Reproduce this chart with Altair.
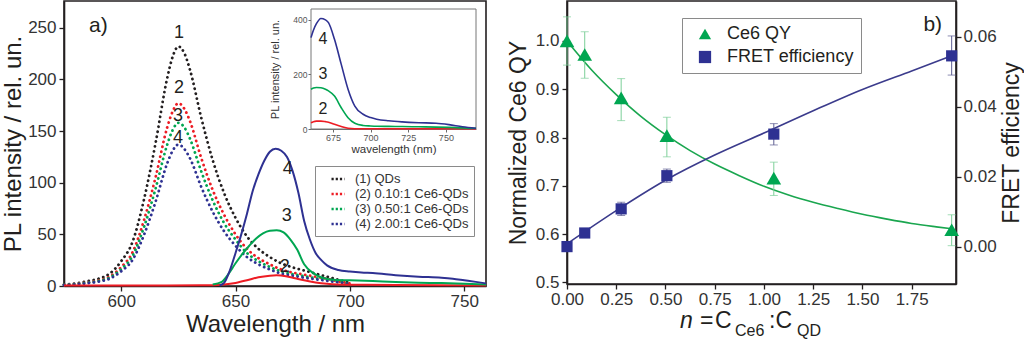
import altair as alt
import pandas as pd

FONT = "Liberation Sans"

# ---------------- panel a : QD emission (dotted) ----------------
curves = ["(1) QDs", "(2) 0.10:1 Ce6-QDs", "(3) 0.50:1 Ce6-QDs", "(4) 2.00:1 Ce6-QDs"]
curve_colors = ["#231f20", "#ed1c24", "#00a651", "#2e3192"]

wl_qd = [575, 580, 585, 590, 595, 600, 605, 610, 615, 620, 622.5, 625, 627.5, 630, 635,
         640, 645, 650, 655, 660, 665, 670, 675, 680, 685, 690, 695, 700]
qd_1 = [1.5, 2.5, 4.5, 7, 12, 24, 43, 84, 138, 200, 222, 232, 226, 210, 163,
        122, 90, 66, 48, 36, 28, 22, 18, 15, 12, 9, 6, 3]
qd_2 = [1.1, 1.9, 3.4, 5.3, 9.2, 18.3, 32.8, 64, 105, 152.6, 169, 177, 172, 160, 124,
        93, 69, 50, 36, 27, 21, 16, 13, 11, 9, 7, 4.5, 2.5]
qd_3 = [1.0, 1.7, 3.1, 4.8, 8.2, 16.3, 29.3, 57.2, 94, 136, 151, 158, 154, 143, 111,
        83, 61, 45, 32, 24, 18.5, 14, 11.5, 9.5, 7.5, 6, 4, 2]
qd_4 = [0.9, 1.5, 2.7, 4.1, 7.1, 14.2, 25.4, 49.6, 81.4, 118, 131, 137, 133, 124, 96,
        72, 53, 39, 28, 21, 16, 12, 10, 8, 6.5, 5, 3.5, 2]

# ---------------- panel a : Ce6 emission (solid) ----------------
wl_ce6_2 = [575, 600, 620, 640, 645, 650, 655, 660, 665, 668, 672, 676, 680, 685, 690,
            695, 700, 720, 740, 759.5]
ce6_2 = [0.6, 0.6, 0.6, 0.8, 1.5, 3, 5.5, 8.5, 10, 10.3, 9.5, 7.5, 5.5, 3.5, 2.2,
         1.5, 1.2, 1.0, 0.8, 0.6]
wl_ce6_3 = [640, 644, 647, 650, 653, 656, 659, 662, 665, 668, 671, 674, 677, 680, 684,
            688, 694, 700, 710, 720, 730, 740, 750, 759.5]
ce6_3 = [1.5, 4, 12, 22, 31, 39, 46, 51, 53.5, 54, 52, 45, 35, 21, 12.5,
         8, 5.8, 5.5, 4.8, 3.8, 3.2, 2.8, 2.2, 1.5]
wl_ce6_4 = [643, 645, 647.5, 650, 652.5, 655, 657.5, 660, 662.5, 665, 667.5, 670, 672.5,
            675, 677.5, 680, 682.5, 685, 687.5, 690, 695, 700, 705, 710, 720, 730, 740,
            745, 750, 755, 759.5]
ce6_4 = [0.5, 3, 15, 32, 50, 70, 92, 108, 121, 130, 133, 131, 125,
         111, 90, 63, 45, 32, 25, 20, 15.5, 14, 13, 12.5, 10.5, 9, 8,
         7, 5.5, 4, 2.5]

# ---------------- panel a : inset ----------------
wl_in = [660.4, 662, 664, 667, 670, 672, 676, 680.5, 685, 689.5, 695, 700, 704, 712,
         721, 732, 743.5, 752, 761, 770]
in_4 = [335, 362, 386, 405, 400, 390, 329, 237, 146, 84, 54, 42, 36, 30, 26, 23, 21, 16, 8.5, 3]
in_3 = [146, 150, 152, 151, 146, 140, 121, 78, 41.5, 21, 13, 11, 10, 9.5, 9, 8, 7, 6, 4, 3]
in_2 = [23, 27, 29, 29, 27, 25, 17, 9, 2.5, 1, 1, 1, 1, 1, 1, 1, 1, 1, 1, 1]

# curve number labels
lab_wl = [625.3, 625.3, 624.8, 624.8, 672.8, 672.4, 671.5]
lab_v = [245, 191.7, 164.6, 143, 113, 67.8, 18.4]
lab_t = ["1", "2", "3", "4", "4", "3", "2"]
inlab_wl = [668.4, 668.4, 668.4]
inlab_v = [329, 200, 72]
inlab_t = ["4", "3", "2"]

# ---------------- panel b ----------------
n_pts = [0.0, 0.09, 0.275, 0.507, 1.05, 1.953]
qy = [1.0, 0.972, 0.882, 0.804, 0.716, 0.609]
qy_lo = [0.95, 0.923, 0.835, 0.760, 0.680, 0.576]
qy_hi = [1.05, 1.019, 0.922, 0.842, 0.749, 0.640]
fret = [0.0, 0.0039, 0.0108, 0.0203, 0.0322, 0.0546]
fret_lo = [0.0, 0.0031, 0.0089, 0.0184, 0.0291, 0.0491]
fret_hi = [0.0, 0.0047, 0.0127, 0.0222, 0.0352, 0.0603]

fit_qy_n = [0, 0.125, 0.25, 0.375, 0.5, 0.625, 0.75, 0.875, 1.0, 1.125, 1.25, 1.375,
            1.5, 1.625, 1.75, 1.875, 1.953]
fit_qy = [1.000, 0.940, 0.889, 0.844, 0.806, 0.773, 0.745, 0.721, 0.699, 0.681, 0.666,
          0.653, 0.641, 0.631, 0.622, 0.615, 0.611]
fit_fret_n = [0, 0.25, 0.5, 0.75, 1.0, 1.25, 1.5, 1.75, 1.953]
fit_fret = [0.0008, 0.0103, 0.0190, 0.0262, 0.0325, 0.0389, 0.0450, 0.0503, 0.0546]

series = ["Ce6 QY", "FRET efficiency"]
green = "#00a651"
navy = "#2e3192"

# ================= build panel a =================
def frame(wl, v, name):
    return pd.DataFrame({"wl": wl, "v": v, "curve": name})

df_qd = pd.concat([frame(wl_qd, qd_1, curves[0]), frame(wl_qd, qd_2, curves[1]),
                   frame(wl_qd, qd_3, curves[2]), frame(wl_qd, qd_4, curves[3])])
df_ce6 = pd.concat([frame(wl_ce6_2, ce6_2, curves[1]), frame(wl_ce6_3, ce6_3, curves[2]),
                    frame(wl_ce6_4, ce6_4, curves[3])])
df_in = pd.concat([frame(wl_in, in_2, curves[1]), frame(wl_in, in_3, curves[2]),
                   frame(wl_in, in_4, curves[3])])
df_lab = pd.DataFrame({"wl": lab_wl, "v": lab_v, "t": lab_t})
df_inlab = pd.DataFrame({"wl": inlab_wl, "v": inlab_v, "t": inlab_t})
df_atag = pd.DataFrame({"wl": [590], "v": [252], "t": ["a)"]})

xa = alt.Scale(domain=[575, 759.5], nice=False, zero=False)
ya = alt.Scale(domain=[0, 276], nice=False)
xa_axis = alt.Axis(values=[600, 650, 700, 750], title="Wavelength / nm", labelFontSize=17,
                   titleFontSize=24, tickSize=5, labelPadding=2, titlePadding=3,
                   labelFlush=False, labelOverlap=False)
ya_axis = alt.Axis(values=[0, 50, 100, 150, 200, 250], title="PL intensity / rel. un.",
                   labelFontSize=17, titleFontSize=24, tickSize=5, labelPadding=3, titlePadding=2,
                   labelFlush=False, labelOverlap=False)

color_a = alt.Color(
    "curve:N",
    scale=alt.Scale(domain=curves, range=curve_colors),
    legend=alt.Legend(orient="none", legendX=251, legendY=165, title=None, padding=5,
                      symbolType="stroke", symbolSize=169, symbolStrokeWidth=2.6,
                      symbolDash=[2.2, 2.0], labelFontSize=13, labelOffset=9, rowPadding=0,
                      symbolOffset=10, fillColor="white", strokeColor="#8a8a8a",
                      labelColor="#333333", labelFont=FONT),
)

def enc_a(chart):
    return chart.encode(x=alt.X("wl:Q", scale=xa, axis=xa_axis),
                        y=alt.Y("v:Q", scale=ya, axis=ya_axis))

dotted = enc_a(alt.Chart(df_qd).mark_line(strokeDash=[0.1, 4.9], strokeWidth=2.8,
                                          strokeCap="round", interpolate="monotone")).encode(color=color_a)
solid = enc_a(alt.Chart(df_ce6).mark_line(strokeWidth=2, interpolate="monotone")).encode(color=color_a)
labels = enc_a(alt.Chart(df_lab).mark_text(fontSize=18, color="#231f20", font=FONT)).encode(text="t:N")
atag = enc_a(alt.Chart(df_atag).mark_text(fontSize=21, color="#231f20", font=FONT)).encode(text="t:N")

main_a = alt.layer(dotted, solid, labels, atag)

xi = alt.Scale(domain=[660.4, 770], range=[247, 412], nice=False, zero=False)
yi = alt.Scale(domain=[0, 440], range=[128, 8], nice=False)
inset_axis_style = dict(domainColor="#6a6a6a", tickColor="#6a6a6a", domainWidth=1, tickWidth=1,
                        labelColor="#555555", titleColor="#333333", tickSize=3, labelPadding=1,
                        labelFlush=False, labelOverlap=False)
xi_axis = alt.Axis(orient="bottom", offset=-157, values=[675, 700, 725, 750],
                   title="wavelength (nm)", labelFontSize=9, titleFontSize=11.5,
                   titlePadding=1, **inset_axis_style)
yi_axis = alt.Axis(orient="left", offset=-247, values=[0, 200, 400],
                   title="PL intensity / rel. un.", labelFontSize=8.5, titleFontSize=11,
                   titlePadding=12, **inset_axis_style)

inset_frame = alt.Chart(pd.DataFrame({"k": [0]})).mark_rect(
    fill="white", stroke="#777777", strokeWidth=1).encode(
    x=alt.XDatum(660.4, type="quantitative", scale=xi, axis=xi_axis),
    x2=alt.X2Datum(770),
    y=alt.YDatum(0, type="quantitative", scale=yi, axis=yi_axis),
    y2=alt.Y2Datum(440))
inset_lines = alt.Chart(df_in).mark_line(strokeWidth=1.6, interpolate="monotone").encode(
    x=alt.X("wl:Q", scale=xi, axis=xi_axis), y=alt.Y("v:Q", scale=yi, axis=yi_axis),
    color=color_a)
inset_labels = alt.Chart(df_inlab).mark_text(fontSize=16, color="#231f20", font=FONT).encode(
    x=alt.X("wl:Q", scale=xi, axis=xi_axis), y=alt.Y("v:Q", scale=yi, axis=yi_axis), text="t:N")
inset = alt.layer(inset_frame, inset_lines, inset_labels)

left = alt.layer(main_a, inset).resolve_scale(x="independent", y="independent").properties(
    width=422, height=285)

# ================= build panel b =================
df_qy = pd.DataFrame({"n": n_pts, "y": qy, "lo": qy_lo, "hi": qy_hi, "series": series[0]})
df_fr = pd.DataFrame({"n": n_pts, "y": fret, "lo": fret_lo, "hi": fret_hi, "series": series[1]})
df_fit_qy = pd.DataFrame({"n": fit_qy_n, "y": fit_qy})
df_fit_fr = pd.DataFrame({"n": fit_fret_n, "y": fit_fret})

xb = alt.Scale(domain=[0, 1.975], nice=False, zero=False)
xb_axis = alt.Axis(values=[0, 0.25, 0.5, 0.75, 1.0, 1.25, 1.5, 1.75], format=".2f", title=None,
                   labelFontSize=17, tickSize=5, labelPadding=2, labelFlush=False,
                   labelOverlap=False)
yl = alt.Scale(domain=[0.4966, 1.0828], nice=False, zero=False)
yl_axis = alt.Axis(orient="left", values=[0.5, 0.6, 0.7, 0.8, 0.9, 1.0], format=".1f",
                   title="Normalized Ce6 QY", labelFontSize=17, titleFontSize=23, tickSize=5,
                   labelPadding=3, titlePadding=5, labelFlush=False, labelOverlap=False)
yr = alt.Scale(domain=[-0.0107, 0.0703], nice=False, zero=False)
yr_axis = alt.Axis(orient="right", values=[0, 0.02, 0.04, 0.06], format=".2f",
                   title="FRET efficiency", titleAngle=270, titleBaseline="top",
                   labelFontSize=17, titleFontSize=23, tickSize=5, labelPadding=2,
                   titlePadding=4, labelFlush=False, labelOverlap=False)

leg_b = alt.Legend(orient="none", legendX=115, legendY=17, title=None, padding=7,
                   fillColor="white", strokeColor="#8a8a8a", labelFontSize=18, symbolSize=150,
                   rowPadding=5, symbolOffset=7, labelOffset=13, labelColor="#231f20",
                   labelFont=FONT, labelExpr="datum.label + '   '")
color_b = alt.Color("series:N", scale=alt.Scale(domain=series, range=[green, navy]), legend=leg_b)
shape_b = alt.Shape("series:N", scale=alt.Scale(domain=series, range=["triangle-up", "square"]),
                    legend=leg_b)


def group(df, fit_df, yscale, yaxis, line_col, err_col, size):
    X = alt.X("n:Q", scale=xb, axis=xb_axis)
    fit = alt.Chart(fit_df).mark_line(color=line_col, strokeWidth=1.6, interpolate="monotone").encode(
        x=X, y=alt.Y("y:Q", scale=yscale, axis=yaxis))
    bars = alt.Chart(df).mark_rule(color=err_col, strokeWidth=1).encode(
        x=X, y=alt.Y("lo:Q", scale=yscale, axis=yaxis), y2="hi:Q")
    cap_lo = alt.Chart(df).mark_tick(color=err_col, orient="horizontal", size=8, thickness=1).encode(
        x=X, y=alt.Y("lo:Q", scale=yscale, axis=yaxis))
    cap_hi = alt.Chart(df).mark_tick(color=err_col, orient="horizontal", size=8, thickness=1).encode(
        x=X, y=alt.Y("hi:Q", scale=yscale, axis=yaxis))
    pts = alt.Chart(df).mark_point(filled=True, size=size, opacity=1).encode(
        x=X, y=alt.Y("y:Q", scale=yscale, axis=yaxis), color=color_b, shape=shape_b)
    return [fit, bars, cap_lo, cap_hi, pts]

layers_qy = group(df_qy, df_fit_qy, yl, yl_axis, "#1aa64f", "#7ccf98", 215)
layers_fr = group(df_fr, df_fit_fr, yr, yr_axis, "#3b3b8c", "#5d5d92", 125)

# panel tag and x-axis title (with subscripts) as text
df_btag = pd.DataFrame({"n": [1.857], "y": [1.033], "t": ["b)"]})
btag = alt.Chart(df_btag).mark_text(fontSize=21, color="#231f20", font=FONT).encode(
    x=alt.X("n:Q", scale=xb, axis=xb_axis), y=alt.Y("y:Q", scale=yl, axis=yl_axis), text="t:N")

title_txt = ["n", "=", "C", "Ce6", ":C", "QD"]
title_px = [113, 133, 148, 168, 202, 230]
title_py = [327, 327, 327, 335, 327, 335]
title_fs = [23, 23, 23, 16, 23, 16]
title_style = ["italic", "normal", "normal", "normal", "normal", "normal"]
title_marks = []
for t, px, py, fs, st in zip(title_txt, title_px, title_py, title_fs, title_style):
    title_marks.append(
        alt.Chart(pd.DataFrame({"k": [0]})).mark_text(
            text=t, fontSize=fs, fontStyle=st, align="left", baseline="alphabetic",
            color="#231f20", font=FONT).encode(x=alt.value(px), y=alt.value(py)))

grp_qy = alt.layer(*layers_qy, btag, *title_marks)
grp_fr = alt.layer(*layers_fr)
right = alt.layer(grp_qy, grp_fr).resolve_scale(y="independent").properties(width=389, height=283)

chart = alt.hconcat(left, right, spacing=15).resolve_scale(
    color="independent", shape="independent").resolve_legend(
    color="independent", shape="independent").properties(
    padding={"left": 0, "top": 0, "right": 0, "bottom": 0}, background="white"
).configure_view(stroke="#231f20", strokeWidth=1.6).configure_axis(
    grid=False, domainColor="#231f20", domainWidth=1.6, tickColor="#231f20", tickWidth=1.3,
    labelFont=FONT, titleFont=FONT, labelColor="#333333", titleColor="#231f20",
    titleFontWeight="normal").configure_text(font=FONT)

chart.save("out.html", embed_options={"renderer": "svg", "actions": False})
